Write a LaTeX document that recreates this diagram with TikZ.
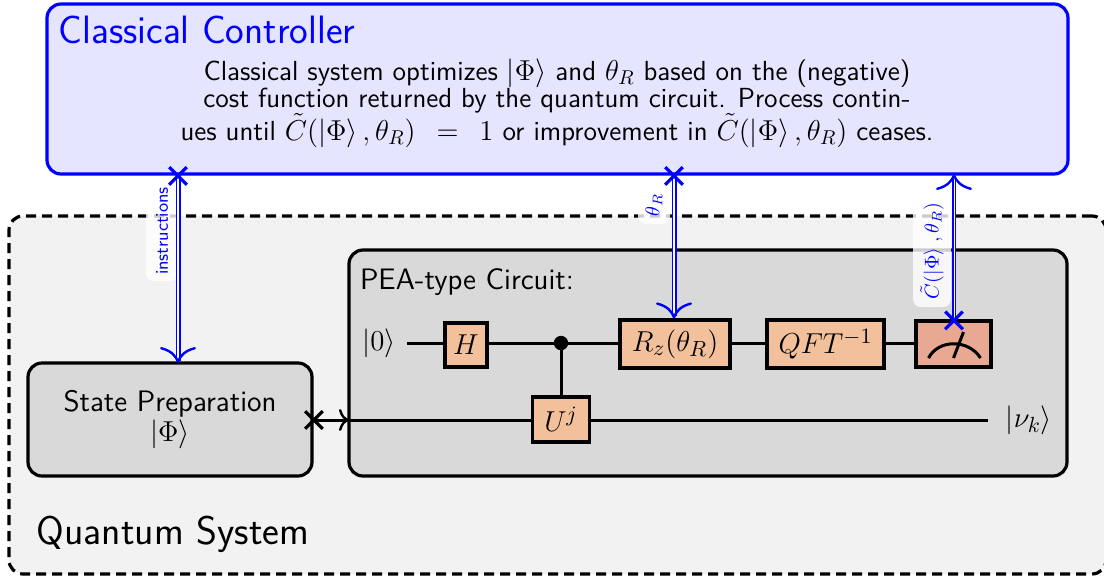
\documentclass[tikz,border=0pt]{standalone}
\usetikzlibrary{positioning,arrows.meta}
\renewcommand{\familydefault}{\sfdefault}
\definecolor{gatecol}{HTML}{F2C09A}
\definecolor{metercol}{HTML}{E8A892}
\tikzset{
  panel/.style={draw=black,line width=1.6pt,rounded corners=7pt,fill=gray!30,outer sep=0pt},
  gatebox/.style={draw=black,line width=1.6pt,fill=gatecol,minimum height=22pt,inner sep=0pt,font=\fontsize{15.8}{17}\selectfont},
  wire/.style={line width=1.5pt},
  linkblue/.style={draw=blue,double=white,line width=.95pt,double distance=.6pt,shorten <=-4pt,
    {Rays[n=4,length=12.5pt,width=12.5pt,line width=1.6pt]}-{Computer Modern Rightarrow[length=8pt,width=18pt,line width=1.2pt]}},
  linkback/.style={draw=blue,double=white,line width=1pt,double distance=.3pt,shorten >=-5.5pt,
    {Computer Modern Rightarrow[length=8pt,width=18pt,line width=1.2pt]}-{Rays[n=4,length=12.5pt,width=12.5pt,line width=1.6pt]}},
  linklabel/.style={rotate=90,fill=white,fill opacity=.8,text opacity=1,text=blue,
    rounded corners=4pt,font=\fontsize{8.9}{10}\selectfont,inner sep=0pt,minimum height=16pt}
}
\begin{document}
\begin{tikzpicture}[x=.5pt,y=-.5pt]
\useasboundingbox (0,0) rectangle (1104,580);
%
% the two large frames
\node[draw=black,dash pattern=on 5pt off 3pt,line width=1.6pt,rounded corners=7pt,fill=gray!10,outer sep=0pt,
  minimum width=548.5pt,minimum height=179pt,anchor=north west,inner sep=0pt] (quantum) at (9,216) {};
\node[draw=blue,line width=1.6pt,rounded corners=7pt,fill=blue!10,outer sep=0pt,
  minimum width=510.5pt,minimum height=85pt,anchor=north west,inner sep=0pt] (classical) at (47,4) {};
\node[panel,minimum width=359pt,minimum height=113pt,anchor=north west,inner sep=0pt] (pea) at (349,250) {};
\node[panel,minimum width=142pt,minimum height=56.5pt,anchor=north west,inner sep=0pt,align=center,
  font=\fontsize{14.8}{13.5}\selectfont] (prep) at (28,363) {State Preparation\\$|\Phi\rangle$};
%
% texts
\node[text=blue,font=\fontsize{19.8}{22}\selectfont] (classtitle) at (207,30) {Classical Controller};
\node[align=center,font=\fontsize{13.8}{13.8}\selectfont] (classtext) at (557,103)
  {Classical system optimizes $|\Phi\rangle$ and $\theta_R$ based on the (negative)\\
   cost function returned by the quantum circuit. Process contin-\\[-1pt]
   ues until $\tilde{C}(|\Phi\rangle\,,\theta_R)$\hspace{10.5pt}$=$\hspace{10.5pt}$1$ or improvement in $\tilde{C}(|\Phi\rangle\,,\theta_R)$ ceases.};
\node[font=\fontsize{20}{22}\selectfont] (quantumtitle) at (173,534) {Quantum System};
\node[font=\fontsize{14.8}{16}\selectfont] (peatitle) at (467,282) {PEA-type Circuit:};
%
% circuit
\node[font=\fontsize{15}{16}\selectfont] (ket0) at (379,343) {$|0\rangle$};
\node[font=\fontsize{15}{16}\selectfont] (ketnu) at (1029,420) {$|\nu_k\rangle$};
\node[gatebox,minimum width=21pt] (hgate) at (466,345) {$H$};
\node[gatebox,minimum width=55pt,minimum height=24pt] (rgate) at (675,344) {$R_z(\theta_R)$};
\node[gatebox,minimum width=58.5pt,minimum height=24pt] (qft) at (825.5,344) {$QFT^{-1}$};
\node[gatebox,minimum width=28.5pt,minimum height=22.5pt] (ugate) at (561,419.5) {$U^j$};
\node[draw=black,line width=1.6pt,fill=metercol,minimum width=37.5pt,minimum height=23pt,inner sep=0pt] (meter) at (953.5,344) {};
\coordinate (ctrl) at (561,343);
\coordinate (wirestart) at (407,343);
\coordinate (wireend) at (988,420);
\draw[wire] (wirestart) -- (hgate.west |- wirestart);
\draw[wire] (hgate.east |- wirestart) -- (rgate.west |- wirestart);
\draw[wire] (rgate.east |- wirestart) -- (qft.west |- wirestart);
\draw[wire] (qft.east |- wirestart) -- (meter.west |- wirestart);
\draw[wire] (ctrl) -- (ugate.north);
\fill (ctrl) circle (3.6pt);
\draw[wire,shorten <=-4pt,{Rays[n=4,length=12.5pt,width=12.5pt,line width=1.6pt]}-{Computer Modern Rightarrow[length=5pt,width=11pt,line width=1.2pt]}]
  (prep.east |- wireend) -- (pea.west |- wireend);
\draw[wire] (pea.west |- wireend) -- (ugate.west |- wireend);
\draw[wire] (ugate.east |- wireend) -- (wireend);
%
% meter dial
\draw[line width=1.5pt] ([shift={(-25,14)}]meter.center) .. controls ([shift={(-15,-5)}]meter.center) and ([shift={(15,-5)}]meter.center) .. ([shift={(27,14)}]meter.center);
\draw[line width=1.5pt] ([shift={(0,14)}]meter.center) -- ([shift={(10,-12)}]meter.center);
%
% classical links
\coordinate (toinstr) at (178,174);
\coordinate (totheta) at (674,174);
\coordinate (tocost) at (954,174);
\node[linklabel,minimum width=50pt] (labinstr) at (162,231) {instructions};
\node[linklabel,minimum width=19pt,font=\fontsize{9.8}{11}\selectfont] (labtheta) at (654,205) {$\theta_R$};
\node[linklabel,minimum width=56pt,minimum height=19pt,font=\fontsize{9.8}{11}\selectfont] (labcost) at (932,251) {$\tilde{C}(|\Phi\rangle\;,\theta_R)$};
\draw[linkblue] (toinstr) -- (prep.north -| toinstr);
\draw[linkblue] (totheta) -- (rgate.north -| totheta);
\draw[linkback] (tocost) -- (meter.north -| tocost);
\end{tikzpicture}
\end{document}
